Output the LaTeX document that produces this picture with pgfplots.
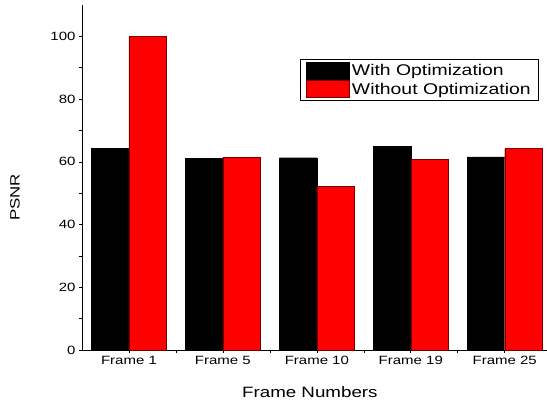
\documentclass[border=0pt]{standalone}
\usepackage{fontspec}
\setmainfont{Liberation Sans}[FakeStretch=1.25]
\usepackage{pgfplots}
\pgfplotsset{compat=1.18}
\begin{document}
\begin{tikzpicture}
\begin{axis}[
  name=ax,
  scale only axis,
  width=465bp, height=345bp,
  xmin=-0.5, xmax=4.45, ymin=0, ymax=110,
  axis lines*=left,
  axis line style={-, line width=0.8bp},
  tick align=outside,
  major tick length=3bp, minor tick length=3bp,
  tick style={black, line width=0.6bp},
  xtick={0,1,2,3,4},
  xticklabels={Frame 1, Frame 5, Frame 10, Frame 19, Frame 25},
  minor xtick={0.5,1.5,2.5,3.5},
  ytick={0,20,40,60,80,100},
  minor ytick={10,30,50,70,90},
  /pgf/number format/assume math mode=true,
  tick label style={font=\fontsize{12bp}{14bp}\selectfont},
  every axis x label/.style={at={(axis description cs:0.49,-0.122)}, anchor=center, font=\fontsize{15bp}{17bp}\selectfont},
  every axis y label/.style={at={(axis description cs:-0.144,0.442)}, rotate=90, anchor=center, font=\fontsize{13.5bp}{15bp}\selectfont},
  xlabel={Frame Numbers},
  ylabel={PSNR},
  legend style={at={(axis description cs:0.983,0.843)}, anchor=north east, draw=black, line width=0.8bp,
    inner xsep=6bp, inner ysep=2bp, row sep=1bp,
    font=\fontsize{15.5bp}{16bp}\selectfont,
    /tikz/every even column/.append style={column sep=3bp}},
  legend cell align=left,
  legend image code/.code={\draw[#1] (0bp,-8.5bp) rectangle (43bp,8.5bp);},
]
\addplot[ybar, bar width=0.4, bar shift=-0.2, fill=black, draw=black] coordinates {(0,64.4) (1,61.1) (2,61.3) (3,65) (4,61.6)};
\addplot[ybar, bar width=0.4, bar shift=0.2, fill=red, draw=red!45!black] coordinates {(0,100) (1,61.5) (2,52.2) (3,60.8) (4,64.2)};
\legend{With Optimization, Without Optimization}
\end{axis}
\pgfresetboundingbox
\path ([xshift=-82bp,yshift=-56bp]ax.south west) rectangle ([yshift=5bp]ax.north east);
\end{tikzpicture}
\end{document}
